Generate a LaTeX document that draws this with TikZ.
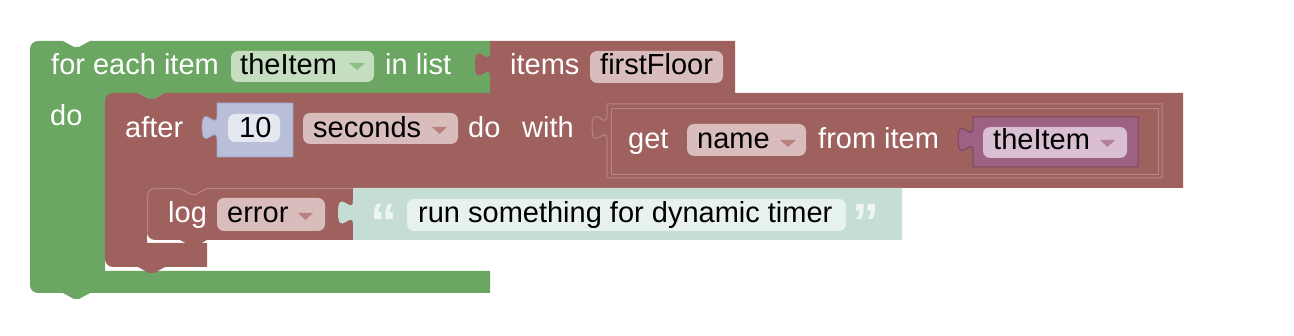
\documentclass[tikz,border=0pt]{standalone}
\usepackage{fontspec}
\setmainfont{Liberation Sans}
\definecolor{loopgreen}{HTML}{6CA663}
\definecolor{greenfield}{HTML}{C5DEC0}
\definecolor{greenarrow}{HTML}{8FBF87}
\definecolor{blockred}{HTML}{9E615E}
\definecolor{redfield}{HTML}{D8BDBC}
\definecolor{redarrow}{HTML}{B8817E}
\definecolor{redlight}{HTML}{B58683}
\definecolor{numblue}{HTML}{BABFD9}
\definecolor{numfield}{HTML}{E5E7F1}
\definecolor{numedge}{HTML}{9CA1C2}
\definecolor{varpurple}{HTML}{9D6183}
\definecolor{varfield}{HTML}{D9BFD1}
\definecolor{vararrow}{HTML}{B67F9E}
\definecolor{varedge}{HTML}{7D4563}
\definecolor{strgreen}{HTML}{C5DDD4}
\definecolor{strfield}{HTML}{E7F1ED}
\definecolor{quotecol}{HTML}{EEF5F1}
\newcommand\tabup{.. controls +(0,-16.7) and +(0,25.8) .. ++(-15,-12.5) .. controls +(0,-25.8) and +(0,16.7) .. ++(15,-12.5)}
\newcommand\blkfont{\fontsize{29}{32}\selectfont}
\begin{document}
\begin{tikzpicture}[x=1pt,y=-1pt,
  lbl/.style={text=white, anchor=base west, inner sep=0pt, font=\blkfont},
  fldtxt/.style={text=black, anchor=base west, inner sep=0pt, font=\blkfont},
  quote/.style={text=quotecol, anchor=base west, inner sep=0pt, font=\fontsize{54}{56}\selectfont\bfseries}]
\useasboundingbox (0,0) rectangle (1294,336);
\fill[white] (0,0) rectangle (1294,336);

% for each block (green C)
\fill[loopgreen] (30,49) .. controls (30,44.6) and (33.4,41) .. (38,41)
  -- (63,41) -- (74,47) -- (79,47) -- (90,41)
  -- (490,41) -- (490,93)
  -- (165,93) -- (154,99) -- (149,99) -- (138,93)
  -- (113,93) -- (113,101) -- (105,101) -- (105,271) -- (490,271) -- (490,293)
  -- (90,293) -- (79,299) -- (74,299) -- (63,293)
  -- (38,293) .. controls (33.4,293) and (30,289.4) .. (30,285) -- cycle;

% items block
\fill[blockred] (490,41) -- (735,41) -- (735,93) -- (490,93) -- (490,77) \tabup -- cycle;

% after block (red C)
\fill[blockred] (105,101) .. controls (105,96.6) and (108.6,93) .. (113,93)
  -- (138,93) -- (149,99) -- (154,99) -- (165,93)
  -- (1183,93) -- (1183,188)
  -- (207,188) -- (196,194) -- (191,194) -- (180,188)
  -- (155,188) -- (155,196) -- (147,196) -- (147,243) -- (207,243) -- (207,267)
  -- (165,267) -- (154,273) -- (149,273) -- (138,267)
  -- (113,267) .. controls (108.6,267) and (105,263.4) .. (105,259) -- cycle;

% number block
\filldraw[fill=numblue, draw=numedge, line width=0.8pt] (217,103) -- (293,103) -- (293,157) -- (217,157) -- (217,140) \tabup -- cycle;

% get block
\filldraw[fill=blockred, draw=redlight, line width=1pt] (607,104) -- (1162,104) -- (1162,178) -- (607,178) -- (607,140) \tabup -- cycle;
\draw[redlight, line width=0.8pt] (611,108) rectangle (1158,174);

% variable block
\filldraw[fill=varpurple, draw=varedge, line width=1pt] (973,117) -- (1138,117) -- (1138,167) -- (973,167) -- (973,152) \tabup -- cycle;

% log block
\fill[blockred] (147,196) .. controls (147,191.6) and (150.6,188) .. (155,188)
  -- (180,188) -- (191,194) -- (196,194) -- (207,188)
  -- (353,188) -- (353,240)
  -- (207,240) -- (196,246) -- (191,246) -- (180,240)
  -- (155,240) .. controls (150.6,240) and (147,236.4) .. (147,232) -- cycle;
\draw[redlight, line width=1pt] (147.5,232) -- (147.5,196) .. controls (147.5,191.9) and (150.9,188.5) .. (155,188.5)
  -- (180,188.5) -- (191,194.5) -- (196,194.5) -- (207,188.5) -- (353,188.5);

% string block
\fill[strgreen] (353,188) -- (902,188) -- (902,240) -- (353,240) -- (353,225) \tabup -- cycle;

% fields
\fill[greenfield, rounded corners=7pt] (231,51) rectangle (374,82);
\fill[redfield, rounded corners=7pt] (590,51) rectangle (723,83);
\fill[numfield, rounded corners=7pt] (228,114) rectangle (280,142);
\fill[redfield, rounded corners=7pt] (303,113) rectangle (458,144);
\fill[redfield, rounded corners=7pt] (687,124) rectangle (806,156);
\fill[varfield, rounded corners=7pt] (983,127) rectangle (1127,158);
\fill[redfield, rounded corners=7pt] (217,198) rectangle (325,231);
\fill[strfield, rounded corners=7pt] (407,199) rectangle (846,231);

% dropdown arrows
\fill[greenarrow] (349,63) -- (365,63) -- (357,70) -- cycle;
\fill[redarrow] (432,127) -- (447,127) -- (439.5,134) -- cycle;
\fill[redarrow] (780,140) -- (796,140) -- (788,147) -- cycle;
\fill[redarrow] (298,213) -- (313,213) -- (305.5,220) -- cycle;
\fill[vararrow] (1100,140) -- (1115,140) -- (1107.5,147) -- cycle;

% labels
\node[lbl] (foreach) at (51,75) {for each item};
\node[fldtxt] (loopvar) at (240,75) {theItem};
\node[lbl] (inlist) at (385,75) {in list};
\node[lbl] (items) at (510,75) {items};
\node[fldtxt] (floor) at (600,75) {firstFloor};
\node[lbl] (loopdo) at (50,125.5) {do};
\node[lbl] (after) at (125,138) {after};
\node[fldtxt] (num) at (239,138) {10};
\node[fldtxt] (unit) at (313,138) {seconds};
\node[lbl] (afterdo) at (468,138) {do};
\node[lbl] (with) at (522,138) {with};
\node[lbl] (get) at (628,149) {get};
\node[fldtxt] (prop) at (697,149) {name};
\node[lbl] (fromitem) at (818,149) {from item};
\node[fldtxt] (getvar) at (993,150) {theItem};
\node[lbl] (log) at (168,223) {log};
\node[fldtxt] (level) at (227,223) {error};
\node[quote] (qopen) at (370,242) {“};
\node[fldtxt] (msg) at (418,223) {run something for dynamic timer};
\node[quote] (qclose) at (852,242) {”};
\end{tikzpicture}
\end{document}
